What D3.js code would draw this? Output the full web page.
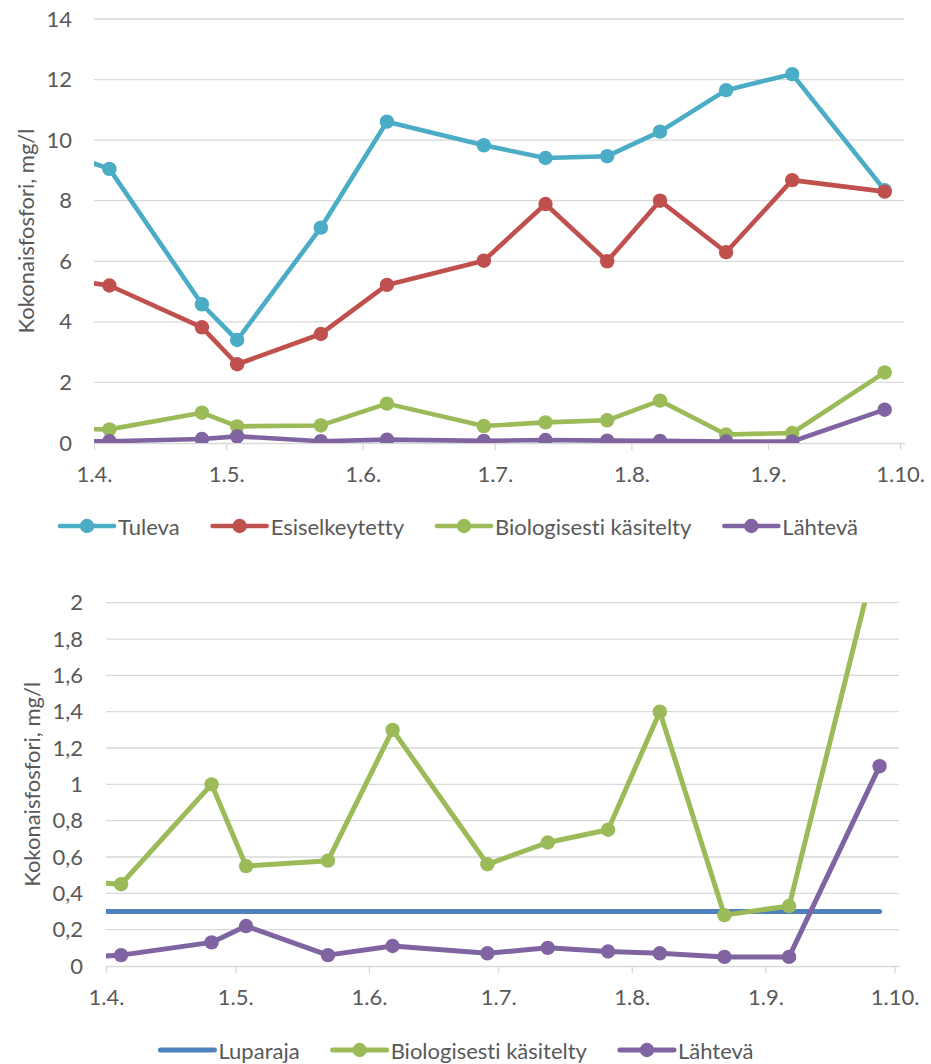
<!DOCTYPE html>
<html>
<head>
<meta charset="utf-8">
<script src="https://cdn.jsdelivr.net/npm/d3@7"></script>
<style>
  body { margin: 0; background: #fff; }
  text { font-family: Lato, "Open Sans", sans-serif; fill: #595959; font-variant-ligatures: none; }
</style>
</head>
<body>
<svg id="chart" width="931" height="1064"></svg>
<script>
// Sampling dates (the first sample falls before the visible axis range and is clipped)
const sampleDates = ["2019-03-28", "2019-04-04", "2019-04-25", "2019-05-03", "2019-05-22", "2019-06-06",
  "2019-06-28", "2019-07-12", "2019-07-26", "2019-08-07", "2019-08-22", "2019-09-06", "2019-09-27"];

// Total phosphorus, mg/l
const tuleva         = [9.41, 9.05, 4.58, 3.40, 7.11, 10.61, 9.83, 9.41, 9.47, 10.28, 11.65, 12.18, 8.35];
const esiselkeytetty = [5.34, 5.20, 3.82, 2.60, 3.60, 5.22, 6.02, 7.89, 6.00, 8.00, 6.30, 8.68, 8.30];
const biologisesti   = [0.46, 0.45, 1.00, 0.55, 0.58, 1.30, 0.56, 0.68, 0.75, 1.40, 0.28, 0.33, 2.33];
const lahteva        = [0.05, 0.06, 0.13, 0.22, 0.06, 0.11, 0.07, 0.10, 0.08, 0.07, 0.05, 0.05, 1.10];
const luparaja       = [0.3, 0.3, 0.3, 0.3, 0.3, 0.3, 0.3, 0.3, 0.3, 0.3, 0.3, 0.3, 0.3];

// Axis ticks
const monthTicks = ["2019-04-01", "2019-05-01", "2019-06-01", "2019-07-01", "2019-08-01", "2019-09-01", "2019-10-01"];
const axisStart = "2019-04-01";
const axisEnd = "2019-10-02";
const topYTicks = [0, 2, 4, 6, 8, 10, 12, 14];
const bottomYTicks = [0, 0.2, 0.4, 0.6, 0.8, 1, 1.2, 1.4, 1.6, 1.8, 2];

const yTitle = "Kokonaisfosfori, mg/l";

const svg = d3.select("#chart");
const parse = d3.utcParse("%Y-%m-%d");
const HALF_DAY = 12 * 3600 * 1000;
const fmtDate = d3.utcFormat("%-d.%-m.");
const fmtNum = v => String(+v.toFixed(1)).replace(".", ",");
const GRID = "#d9d9d9";
const FS = 22;

function seriesPoints(values) {
  return sampleDates.map((d, i) => ({ date: new Date(+parse(d) + HALF_DAY), value: values[i] }));
}

function drawPanel(cfg) {
  const g = svg.append("g");
  const x = d3.scaleUtc().domain([parse(axisStart), parse(axisEnd)]).range([cfg.left, cfg.right]);
  const y = d3.scaleLinear().domain([0, cfg.yMax]).range([cfg.bottom, cfg.top]);

  // horizontal gridlines
  g.append("g").selectAll("line").data(cfg.yTicks.filter(v => v > 0)).join("line")
    .attr("x1", cfg.left).attr("x2", cfg.right)
    .attr("y1", d => y(d)).attr("y2", d => y(d))
    .attr("stroke", GRID).attr("stroke-width", 1.3);

  // y axis labels
  const ya = g.append("g").attr("transform", `translate(${cfg.left},0)`)
    .call(d3.axisLeft(y).tickValues(cfg.yTicks).tickSize(0).tickPadding(cfg.yPad).tickFormat(fmtNum));
  ya.select(".domain").remove();
  ya.selectAll("text").style("font-size", FS + "px").attr("fill", "#595959");

  // x axis
  const xa = g.append("g").attr("transform", `translate(0,${cfg.bottom})`)
    .call(d3.axisBottom(x).tickValues(monthTicks.map(parse)).tickSize(7).tickSizeOuter(0)
      .tickPadding(16).tickFormat(fmtDate));
  xa.select(".domain").attr("stroke", GRID).attr("stroke-width", 1.3);
  xa.selectAll(".tick line").attr("stroke", GRID).attr("stroke-width", 1.3);
  xa.selectAll("text").style("font-size", FS + "px").attr("fill", "#595959");

  // y axis title
  g.append("text")
    .attr("transform", `translate(${cfg.titleX},${(cfg.top + cfg.bottom) / 2}) rotate(-90)`)
    .attr("text-anchor", "middle").attr("dominant-baseline", "central")
    .style("font-size", FS + "px").text(yTitle);

  // clip region for the series
  const clipId = "clip" + cfg.id;
  svg.append("clipPath").attr("id", clipId).append("rect")
    .attr("x", cfg.left).attr("y", cfg.top)
    .attr("width", cfg.right - cfg.left).attr("height", cfg.bottom - cfg.top);
  const plot = g.append("g").attr("clip-path", `url(#${clipId})`);

  const line = d3.line().x(d => x(d.date)).y(d => y(d.value));
  cfg.series.forEach(s => {
    const pts = seriesPoints(s.values);
    plot.append("path").datum(pts).attr("d", line)
      .attr("fill", "none").attr("stroke", s.color).attr("stroke-width", cfg.lineWidth)
      .attr("stroke-linejoin", "round").attr("stroke-linecap", "round");
    if (s.markers) {
      plot.append("g").selectAll("circle").data(pts).join("circle")
        .attr("cx", d => x(d.date)).attr("cy", d => y(d.value)).attr("r", 7.2)
        .attr("fill", s.color);
    }
  });

  // legend
  const lg = g.append("g");
  const symW = 54, textGap = 4, itemGap = 33;
  let cursor = 0;
  cfg.series.forEach(s => {
    const it = lg.append("g");
    it.append("line").attr("x1", 0).attr("x2", symW).attr("y1", 0).attr("y2", 0)
      .attr("stroke", s.color).attr("stroke-width", cfg.lineWidth).attr("stroke-linecap", "round");
    if (s.markers) it.append("circle").attr("cx", symW / 2).attr("cy", 0).attr("r", 7.2).attr("fill", s.color);
    const t = it.append("text").attr("x", symW + textGap).attr("y", 0)
      .attr("dominant-baseline", "central").style("font-size", FS + "px").text(s.name);
    const w = symW + textGap + t.node().getComputedTextLength();
    it.attr("transform", `translate(${cursor},${cfg.legendY})`);
    cursor += w + itemGap;
  });
  const total = cursor - itemGap;
  lg.attr("transform", `translate(${cfg.legendCenter - total / 2},0)`);
}

drawPanel({
  id: "top", left: 94, right: 904.5, top: 19, bottom: 443, yMax: 14, yTicks: topYTicks,
  yPad: 22, titleX: 25, lineWidth: 4.6, legendY: 526, legendCenter: 459,
  series: [
    { name: "Tuleva", values: tuleva, color: "#4bacc6", markers: true },
    { name: "Esiselkeytetty", values: esiselkeytetty, color: "#c0504d", markers: true },
    { name: "Biologisesti käsitelty", values: biologisesti, color: "#9bbb59", markers: true },
    { name: "Lähtevä", values: lahteva, color: "#8064a2", markers: true }
  ]
});

drawPanel({
  id: "bottom", left: 106, right: 899, top: 602.7, bottom: 966, yMax: 2, yTicks: bottomYTicks,
  yPad: 23, titleX: 31, lineWidth: 5, legendY: 1050, legendCenter: 457,
  series: [
    { name: "Luparaja", values: luparaja, color: "#4f81bd", markers: false },
    { name: "Biologisesti käsitelty", values: biologisesti, color: "#9bbb59", markers: true },
    { name: "Lähtevä", values: lahteva, color: "#8064a2", markers: true }
  ]
});
</script>
</body>
</html>
